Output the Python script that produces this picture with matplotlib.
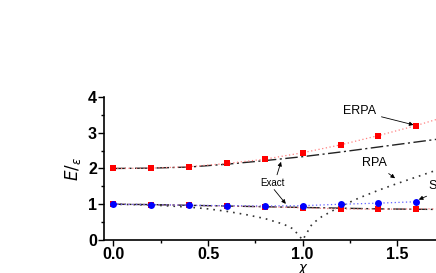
import numpy as np
import matplotlib
matplotlib.use("Agg")
import matplotlib.pyplot as plt
from matplotlib.ticker import MultipleLocator

plt.rcParams['font.family'] = ['Liberation Sans', 'DejaVu Sans']

# data
chi_pts = [0.0, 0.2, 0.4, 0.6, 0.8, 1.0, 1.2, 1.4, 1.6]
erpa_hi = [2.0, 2.01, 2.05, 2.14, 2.26, 2.44, 2.66, 2.92, 3.2]
erpa_lo = [1.0, 0.99, 0.97, 0.95, 0.93, 0.90, 0.87, 0.86, 0.87]
scrpa = [1.0, 0.99, 0.97, 0.96, 0.95, 0.96, 1.0, 1.03, 1.07]

chi_fine = [0.0, 0.2, 0.4, 0.6, 0.8, 1.0, 1.2, 1.4, 1.6, 1.7, 1.8]
erpa_hi_line = [2.0, 2.01, 2.05, 2.14, 2.26, 2.44, 2.66, 2.92, 3.2, 3.36, 3.52]
erpa_lo_line = [1.0, 0.99, 0.97, 0.95, 0.93, 0.90, 0.87, 0.86, 0.87, 0.87, 0.87]
exact_hi = [2.0, 2.01, 2.04, 2.12, 2.22, 2.33, 2.46, 2.6, 2.74, 2.81, 2.88]
exact_lo = [1.0, 0.99, 0.97, 0.95, 0.93, 0.91, 0.89, 0.87, 0.86, 0.855, 0.85]

chi_rpa = [0.0, 0.2, 0.4, 0.5, 0.6, 0.7, 0.8, 0.9, 0.95, 1.0,
           1.05, 1.1, 1.2, 1.3, 1.4, 1.5, 1.6, 1.7, 1.8]
rpa = [1.0, 0.98, 0.92, 0.87, 0.80, 0.71, 0.60, 0.44, 0.31, 0.0,
       0.45, 0.65, 0.94, 1.18, 1.39, 1.58, 1.76, 1.94, 2.1]

fig = plt.figure(figsize=(4.36, 2.73), dpi=100)
# axes run past the right edge of the figure, as in the original crop
ax = fig.add_axes([104/436, 33/273, 0.868, 0.524])

ax.plot(chi_fine, exact_hi, color='#222222', ls=(0, (9, 2.5, 1.5, 2.5)), lw=1.0)
ax.plot(chi_fine, exact_lo, color='#222222', ls=(0, (9, 2.5, 1.5, 2.5)), lw=1.0)
ax.plot(chi_rpa, rpa, color='#333333', ls=(0, (1, 3)), lw=1.2)
ax.plot(chi_fine, erpa_hi_line, color='#ff8080', ls=(0, (1, 2)), lw=0.9)
ax.plot(chi_fine, erpa_lo_line, color='#ff8080', ls=(0, (1, 2)), lw=0.9)
ax.plot(chi_pts, scrpa, color='#6060ff', ls=(0, (1, 2)), lw=0.9)
ax.plot(chi_pts, erpa_hi, 's', color='#ff0000', ms=4.5, mew=0)
ax.plot(chi_pts, erpa_lo, 's', color='#ff0000', ms=4.5, mew=0)
ax.plot(chi_pts, scrpa, 'o', color='#0000ff', ms=5, mew=0)

ax.set_xlim(-0.05, 1.95)
ax.set_ylim(0, 4)
ax.xaxis.set_major_locator(MultipleLocator(0.5))
ax.xaxis.set_minor_locator(MultipleLocator(0.25))
ax.yaxis.set_major_locator(MultipleLocator(1))
ax.yaxis.set_minor_locator(MultipleLocator(0.5))
ax.tick_params(which='both', direction='out', width=1)
ax.tick_params(which='major', length=4, labelsize=11.5, pad=1)
ax.tick_params(which='minor', length=2)
for lbl in ax.get_xticklabels() + ax.get_yticklabels():
    lbl.set_fontweight('bold')
ax.spines['top'].set_visible(False)
ax.spines['right'].set_visible(False)
ax.spines['left'].set_linewidth(1.2)
ax.spines['bottom'].set_linewidth(1.2)

# x label sits tight under the tick labels, as in the original
fig.text(303/436, 1 - 267/273, 'χ', fontsize=9.5, style='italic',
         family=['DejaVu Sans'], ha='center', va='center')
ax.set_ylabel(r'$E/_{\epsilon}$', fontsize=12, labelpad=4)

arr = dict(arrowstyle='-|>', color='black', lw=0.6, mutation_scale=6)
ax.annotate('ERPA', xy=(1.6, 3.2), xytext=(1.3, 3.6), fontsize=9,
            ha='center', va='center', arrowprops=arr)
ax.annotate('RPA', xy=(1.5, 1.68), xytext=(1.38, 2.15), fontsize=9,
            ha='center', va='center', arrowprops=arr)
ax.annotate('SCRPA', xy=(1.6, 1.1), xytext=(1.665, 1.5), fontsize=9,
            ha='left', va='center', arrowprops=arr)
ax.text(0.84, 1.6, 'Exact', fontsize=7, ha='center', va='center')
ax.annotate('', xy=(0.89, 2.26), xytext=(0.86, 1.75), arrowprops=arr)
ax.annotate('', xy=(0.92, 0.95), xytext=(0.84, 1.47), arrowprops=arr)

fig.savefig('out.png', dpi=100)
